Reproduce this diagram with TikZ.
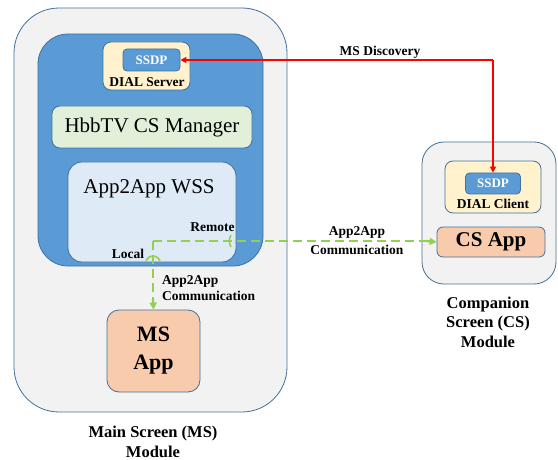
\documentclass[tikz,border=0pt]{standalone}
\usepackage{fontspec}
\setmainfont{Liberation Serif}
\usetikzlibrary{arrows.meta}
\definecolor{modfill}{HTML}{F2F2F2}
\definecolor{modline}{HTML}{41719C}
\definecolor{blueA}{HTML}{5B9BD5}
\definecolor{yel}{HTML}{FFF2CC}
\definecolor{lgrn}{HTML}{E2F0D9}
\definecolor{lblue}{HTML}{DEEBF7}
\definecolor{peach}{HTML}{F8CBAD}
\definecolor{dgreen}{HTML}{92D050}
\tikzset{
  box/.style={draw=modline, line width=0.8pt, inner sep=0pt, rectangle},
  lbl/.style={font=\bfseries\fontsize{13.5}{16}\selectfont, inner sep=0pt, align=center},
  biglbl/.style={font=\bfseries\fontsize{16.5}{19.5}\selectfont, inner sep=0pt, align=center},
  redline/.style={draw=red, line width=2pt, -{Triangle[length=6pt,width=6pt]}},
  grnline/.style={draw=dgreen, line width=2.2pt, dash pattern=on 9pt off 5pt},
  grntip/.style={draw=dgreen, line width=2.2pt, -{Triangle[length=7pt,width=7pt]}},
}
\begin{document}
\begin{tikzpicture}[x=1pt,y=-1pt]
\useasboundingbox[fill=white] (0,0) rectangle (558,460);
% Main screen module
\node[box, fill=modfill, rounded corners=45pt, minimum width=273pt, minimum height=404pt] (ms) at (150.5,210) {};
\node[box, fill=blueA, rounded corners=30pt, minimum width=225pt, minimum height=232pt] (bluebox) at (150.5,150) {};
\node[box, fill=yel, rounded corners=8pt, minimum width=87pt, minimum height=48pt] (dialserver) at (146.5,66) {};
\node[box, fill=blueA, rounded corners=4pt, minimum width=57pt, minimum height=22pt, text=white, font=\bfseries\fontsize{13}{15}\selectfont] (ssdpms) at (151.5,60) {SSDP};
\node[lbl] (dialservertxt) at (147,82) {DIAL Server};
\node[box, fill=lgrn, rounded corners=8pt, minimum width=200pt, minimum height=42pt, font=\fontsize{21}{24}\selectfont] (hbbtv) at (152,127) {HbbTV CS Manager};
\node[box, fill=lblue, rounded corners=14pt, minimum width=168pt, minimum height=100pt] (wss) at (152,212) {};
\node[inner sep=0pt, font=\fontsize{21}{24}\selectfont] (wsstxt) at (149,189) {App2App WSS};
\node[lbl] (remote) at (212.5,227) {Remote};
\node[lbl] (local) at (128,254) {Local};
\node[box, fill=peach, rounded corners=12pt, minimum width=93pt, minimum height=82pt, align=center, font=\bfseries\fontsize{22}{28}\selectfont] (msapp) at (153.5,351) {MS\\App};
\node[biglbl] (mslabel) at (153,442) {Main Screen (MS)\\Module};
% Companion screen module
\node[box, fill=modfill, rounded corners=22pt, minimum width=134pt, minimum height=142pt] (cs) at (489,213) {};
\node[box, fill=yel, rounded corners=8pt, minimum width=96pt, minimum height=52pt] (dialclient) at (493,187) {};
\node[box, fill=blueA, rounded corners=4pt, minimum width=55pt, minimum height=21pt, text=white, font=\bfseries\fontsize{13}{15}\selectfont] (ssdpcs) at (493,183.5) {SSDP};
\node[lbl] (dialclienttxt) at (493,204) {DIAL Client};
\node[box, fill=peach, rounded corners=6pt, minimum width=108pt, minimum height=30pt, font=\bfseries\fontsize{21}{24}\selectfont] (csapp) at (491,242) {CS App};
\node[biglbl] (cslabel) at (488,322) {Companion\\Screen (CS)\\Module};
% MS discovery (red)
\coordinate (rc) at (493,60);
\draw[redline] (rc) -- (ssdpcs.north);
\draw[redline] (rc) -- (ssdpms.east);
\node[lbl] (msdisc) at (380,52) {MS Discovery};
% App2App communication (green)
\coordinate (gc) at (153,241);
\draw[grnline] (gc) -- (426,241);
\draw[grntip] (426,241) -- (csapp.west);
\draw[grnline] (gc) -- (153,300);
\draw[grntip] (153,299) -- (msapp.north);
\draw[dgreen, line width=1.6pt] (231,235) arc[start angle=150, end angle=210, radius=12pt];
\draw[dgreen, line width=1.6pt] (146,261) arc[start angle=160, end angle=20, radius=7.5pt];
\node[lbl, align=left, anchor=west] (comm1) at (162,288) {App2App\\Communication};
\node[lbl] (comm2a) at (357,232) {App2App};
\node[lbl] (comm2b) at (357,249.5) {Communication};
\end{tikzpicture}
\end{document}
